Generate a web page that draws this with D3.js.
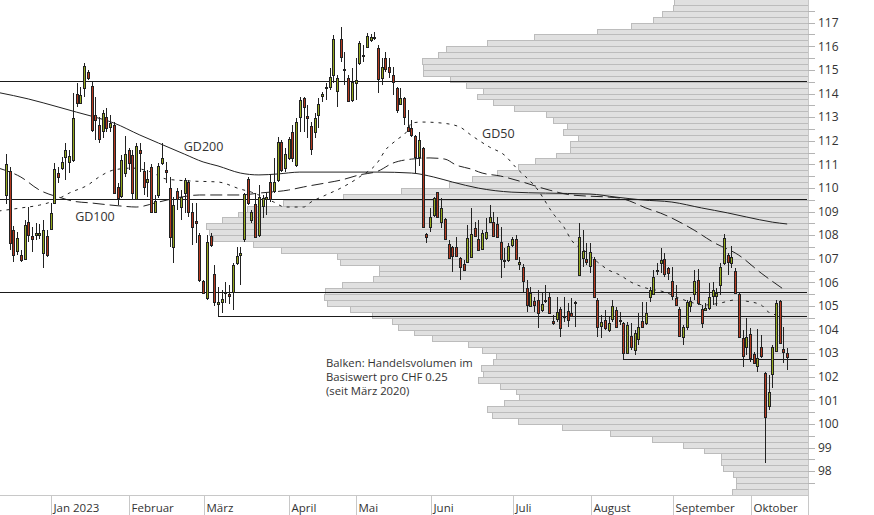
<!DOCTYPE html>
<html><head><meta charset="utf-8">
<script src="https://cdn.jsdelivr.net/npm/d3@7"></script>
<style>html,body{margin:0;padding:0;background:#fff;overflow:hidden}</style>
</head><body>
<svg id="chart" width="874" height="515"></svg>
<script>
// ---------- DATA ----------
// Daily candles [open, high, low, close], one per trading day, Dec 2022 .. Oct 2023
const candles = [
[109.70,111.43,109.30,111.01],[110.71,110.88,107.37,107.66],[108.21,108.38,106.86,107.15],[107.32,108.13,107.15,107.88],
[107.15,107.37,106.86,106.94],[106.99,108.64,106.94,108.43],[108.55,109.19,107.71,108.00],[107.96,108.34,107.28,107.83],
[108.00,108.51,107.79,108.09],[108.00,108.47,107.83,108.09],[107.24,108.64,106.61,108.21],[107.96,108.21,107.07,107.15],
[108.26,109.36,108.21,108.93],
[109.36,111.05,109.32,110.80],[110.63,110.88,110.21,110.46],[110.84,111.31,110.76,111.10],[111.31,111.90,110.33,111.60],
[111.10,111.60,110.63,111.35],[111.18,114.02,111.10,112.96],[113.98,114.44,113.43,113.60],[113.60,114.27,113.55,113.93],
[114.23,115.29,113.85,115.16],[114.91,114.99,114.57,114.65],[114.32,114.49,112.37,112.45],[113.09,113.85,112.03,112.87],
[112.66,113.00,111.90,112.07],[112.41,113.30,112.11,113.17],[113.00,113.38,112.37,112.54],[112.58,113.09,112.37,112.75],
[112.66,112.79,109.74,109.78],[110.04,110.21,109.27,109.57],[109.66,111.39,109.57,111.18],[110.63,112.20,110.46,111.43],
[111.60,111.69,110.76,111.05],
[111.39,111.60,109.49,109.78],[109.53,111.90,109.49,111.77],[111.60,111.90,110.67,111.48],[110.71,111.10,109.70,110.04],
[110.25,110.76,109.61,110.38],[110.88,111.00,108.98,108.98],[108.98,109.70,108.93,109.44],[109.70,111.05,109.57,110.93],
[111.05,111.90,110.97,111.27],[110.76,111.10,110.21,110.67],[109.99,110.46,107.49,107.92],[107.49,109.61,106.82,109.27],
[109.87,109.99,109.06,109.53],[109.19,109.91,108.64,109.61],[109.78,110.42,108.93,110.33],[110.25,110.33,108.76,108.98],
[108.98,109.36,107.58,108.34],[108.60,109.36,107.66,108.51],[108.00,108.09,106.01,106.10],[106.05,106.10,105.50,105.54],
[105.33,108.00,105.25,107.71],[107.96,108.09,107.49,107.58],[106.35,106.73,104.99,105.16],[105.08,105.80,104.58,105.16],
[105.16,105.67,104.70,105.29],[105.59,106.01,105.12,105.59],[105.50,105.88,105.08,105.42],[105.59,106.82,104.83,106.73],
[106.82,107.49,106.73,107.11],[107.15,107.49,105.88,107.24],[107.83,109.78,107.71,109.74],[110.38,110.46,109.27,109.36],
[108.64,109.06,108.51,108.98],[109.32,109.74,107.92,107.92],[108.00,110.12,107.92,109.61],[109.23,109.70,108.72,109.57],
[109.53,109.78,108.85,109.61],[110.25,110.59,109.40,109.53],[109.87,111.27,109.78,110.25],[110.33,112.16,110.25,111.94],
[111.94,112.03,110.67,110.76],[110.84,111.69,110.67,111.43],[111.27,112.16,111.18,112.07],
[112.37,112.66,111.10,111.27],[110.97,112.96,110.88,112.79],[113.00,113.85,112.37,113.72],[113.81,113.85,112.37,113.43],
[113.05,113.51,112.11,112.96],[112.62,112.79,111.39,111.65],[112.37,113.17,112.11,112.96],[113.09,113.81,112.54,113.55],
[113.89,114.06,113.64,113.98],[114.23,114.44,113.72,114.27],[114.27,115.08,114.15,114.70],[114.78,116.48,114.44,116.31],
[114.10,114.78,113.43,114.65],[116.31,116.82,115.33,115.54],[115.05,115.76,114.36,115.00],[114.65,114.78,113.64,113.68],
[113.72,115.08,113.64,114.49],[114.44,115.50,113.72,114.57],
[115.29,116.22,115.20,116.14],[115.63,116.05,115.33,115.60],[115.97,116.56,115.93,116.43],[116.27,116.52,116.18,116.39],
[116.35,116.60,116.27,116.39],[115.93,116.05,114.02,114.61],[114.65,115.50,114.36,115.12],[115.50,115.76,114.91,115.03],
[115.12,115.50,114.65,114.91],[114.78,115.12,113.93,114.49],[114.23,114.27,113.17,113.30],[113.55,114.23,113.51,113.81],
[113.81,113.85,112.66,113.00],[112.58,113.30,112.37,112.41],[112.54,112.87,112.16,112.24],[112.20,112.24,110.63,111.31],
[111.31,112.37,110.93,112.03],[111.69,111.73,108.30,108.34],[108.05,108.09,107.66,107.92],[108.34,109.15,108.13,108.77],
[108.85,109.61,108.77,109.57],[109.83,109.83,108.72,108.77],[108.55,109.57,108.30,109.15],[108.68,108.72,107.79,107.83],
[107.62,107.79,107.03,107.03],[107.49,107.54,106.43,107.11],[107.49,107.92,107.07,107.11],[107.03,107.07,106.10,106.65],
[106.77,106.94,106.48,106.52],[106.86,108.43,106.82,107.88],[107.07,109.15,107.03,108.05],[108.30,108.55,107.92,107.96],
[107.83,108.64,107.32,107.37],[107.41,108.21,107.37,108.09],[107.88,108.72,107.79,108.13],[108.55,109.27,108.51,108.77],
[108.55,108.98,107.92,107.96],[108.47,108.77,107.88,107.92],[107.71,108.34,106.18,106.99],[106.94,107.45,106.61,106.90],
[106.94,107.66,106.86,107.54],[107.58,107.92,107.49,107.83],
[107.83,108.00,106.94,106.99],[106.77,107.07,106.52,106.86],[106.65,106.77,105.59,106.05],[105.76,106.10,104.74,105.04],
[104.99,105.80,104.95,105.54],[105.20,105.37,104.74,105.04],[105.25,105.67,104.06,104.70],[104.83,105.59,104.74,105.08],
[105.20,105.88,105.12,105.25],[105.37,105.54,104.70,104.70],[104.36,104.62,104.19,104.27],[104.44,105.37,104.32,104.74],
[104.87,104.95,103.68,104.06],[104.53,105.37,104.32,104.57],[104.78,105.12,104.10,104.40],[104.70,105.33,104.53,104.57],
[105.16,105.20,104.10,105.16],[106.31,108.51,106.27,107.92],[107.03,108.21,106.65,107.32],[106.99,107.66,106.73,106.86],
[106.69,107.66,106.39,107.28],
[106.99,107.07,105.33,105.37],[105.25,105.33,103.68,104.10],[104.15,104.62,103.64,104.32],[104.40,104.83,103.98,104.06],
[103.98,104.53,103.89,104.27],[104.44,105.25,104.32,104.99],[104.83,104.95,104.06,104.10],[104.40,104.74,104.19,104.40],
[104.27,104.32,102.75,103.00],[103.00,104.32,102.96,104.19],[103.72,104.27,103.13,103.26],[103.13,103.98,102.92,103.85],
[103.60,104.70,103.34,104.10],[104.36,105.16,104.06,104.10],[104.27,105.16,104.19,104.70],[105.37,105.80,105.16,105.67],
[105.50,106.52,105.46,106.23],[106.48,106.82,106.31,106.52],[106.82,107.45,106.39,106.94],[106.99,107.24,106.23,106.35],
[106.61,106.65,106.10,106.39],[106.05,106.65,105.25,105.42],
[105.33,105.88,104.99,105.04],[104.87,104.95,103.68,103.72],[103.68,104.19,103.34,104.10],[104.10,105.25,103.98,105.16],
[104.99,105.37,104.74,105.20],[105.50,106.52,105.25,106.05],[106.10,106.56,105.04,105.12],[104.87,105.04,104.06,104.27],
[104.83,105.12,104.83,104.91],[104.91,105.97,104.83,105.37],[105.42,106.01,105.04,105.67],[105.42,105.76,104.99,105.54],
[105.88,106.82,105.46,106.65],[106.82,108.05,106.73,107.88],[107.15,107.24,106.31,106.86],[106.82,107.54,106.61,107.07],
[106.48,106.61,105.54,105.54],[105.50,105.59,103.68,103.68],[103.64,103.98,102.41,102.88],[103.26,104.49,102.92,103.68],
[103.81,104.06,102.62,102.79],
[102.96,103.05,102.58,102.58],[102.45,104.02,102.20,102.79],[103.26,103.77,102.79,102.88],[102.16,102.20,98.34,100.29],
[100.76,102.07,100.59,101.35],[102.11,103.34,101.52,103.26],[103.09,105.25,103.05,105.12],[105.20,105.25,103.38,103.43],
[103.17,104.10,102.58,103.05],[103.00,103.22,102.28,102.83]
];

// Month labels and the trading-day index of each month's first session
const monthLabels = ["Jan 2023","Februar","März","April","Mai","Juni","Juli","August","September","Oktober"];
const monthStartIdx = [13, 34, 54, 77, 95, 115, 137, 158, 180, 201];

// Moving averages [day index, value]
const gd200 = [[-2,114.04],[6,113.77],[14,113.43],[19,113.21],[23,113.04],[29,112.75],[36,112.24],[41,111.90],[48,111.43],[53,111.10],[57,110.93],[63,110.63],[68,110.55],[73,110.59],[79,110.67],[100,110.67],[109,110.63],[115,110.46],[120,110.25],[127,109.99],[136,109.82],[145,109.78],[157,109.74],[164,109.61],[171,109.49],[179,109.40],[187,109.15],[194,108.94],[199,108.77],[206,108.55],[210,108.47]];
const gd100 = [[-2,110.84],[4,110.46],[9,109.91],[15,109.57],[18,109.44],[23,109.36],[31,109.23],[35,109.19],[41,109.40],[47,109.61],[52,109.70],[63,109.70],[68,109.78],[76,109.91],[80,110.04],[86,110.21],[90,110.33],[95,110.55],[100,110.71],[104,111.05],[109,111.22],[114,111.27],[118,111.22],[121,110.97],[125,110.80],[128,110.63],[133,110.50],[138,110.29],[146,109.91],[152,109.70],[162,109.61],[165,109.57],[169,109.36],[172,109.15],[176,108.93],[185,108.21],[190,107.71],[197,107.15],[203,106.39],[209,105.71]];
const gd50 = [[-2,109.02],[4,109.15],[9,109.27],[12,109.40],[15,109.61],[17,109.78],[22,110.12],[25,110.46],[29,110.76],[34,110.84],[39,110.67],[43,110.38],[50,110.29],[57,110.25],[63,109.95],[66,109.82],[72,109.40],[75,109.19],[80,109.19],[82,109.40],[86,109.70],[90,109.99],[95,110.46],[100,111.10],[102,111.60],[105,112.03],[108,112.45],[109,112.75],[112,112.79],[117,112.75],[122,112.58],[125,112.24],[130,111.73],[134,111.39],[137,110.88],[143,109.91],[147,108.93],[150,108.34],[152,107.79],[156,107.28],[159,106.86],[162,106.52],[165,106.31],[168,106.01],[172,105.76],[177,105.59],[181,105.33],[184,105.16],[188,105.04],[192,105.12],[196,105.25],[199,105.20],[203,105.04],[205,104.74],[210,104.53]];
const maLabels = [{name:"GD200", idx:47.8, v:111.56},{name:"GD100", idx:18.6, v:108.6},{name:"GD50", idx:128, v:112.1}];

// Horizontal support / resistance levels (fromIdx null = full width)
const levels = [{v:114.53, fromIdx:null},{v:109.51, fromIdx:null},{v:105.57, fromIdx:null},{v:104.58, fromIdx:57},{v:102.75, fromIdx:166}];

// Volume profile: price bins (lower bound, CHF 0.25 wide) and relative traded volume (% of max)
const volBins = [117.75,117.5,117.25,117,116.75,116.5,116.25,116,115.75,115.5,115.25,115,114.75,114.5,114.25,114,
113.75,113.5,113.25,113,112.75,112.5,112.25,112,111.75,111.5,111.25,111,110.75,110.5,110.25,110,
109.75,109.5,109.25,109,108.75,108.5,108.25,108,107.75,107.5,107.25,107,106.75,106.5,106.25,106,
105.75,105.5,105.25,105,104.75,104.5,104.25,104,103.75,103.5,103.25,103,102.75,102.5,102.25,102,
101.75,101.5,101.25,101,100.75,100.5,100.25,100,99.75,99.5,99.25,99,98.75,98.5,98.25,98,97.75,97.5,97.25,97];
const volValues = [22.3,22.4,24.3,25.7,29.4,35.0,45.5,53.3,60.1,61.5,64.1,64.0,64.0,59.5,56.8,54.0,
55.0,52.3,48.8,43.5,42.4,40.0,40.7,38.2,39.5,39.5,41.9,45.3,48.2,51.7,55.8,59.6,
67.6,77.2,87.2,93.2,94.7,97.3,100,99.5,98.8,92.2,87.5,78.2,77.7,71.3,71.3,72.3,
77.4,80.2,80.4,79.9,76.1,72.4,69.1,68.1,65.4,62.5,56.5,54.2,51.8,52.3,54.3,54.0,
54.8,51.2,48.5,48.0,50.5,53.3,52.5,48.2,40.9,32.9,25.9,20.8,17.3,14.5,14.5,14.1,12.5,12.0,12.0,12.6];
const volBinSize = 0.25;
const yTickLabels = [98,99,100,101,102,103,104,105,106,107,108,109,110,111,112,113,114,115,116,117];
const noteLines = ["Balken: Handelsvolumen im","Basiswert pro CHF 0.25","(seit März 2020)"];

// ---------- LAYOUT ----------
const plotR = 808, plotB = 495.5, H = 515;
const FONT = "'Open Sans', 'Noto Sans', sans-serif";
const x = d3.scaleLinear().domain([-1.6, 215.6]).range([0, plotR]);
const y = d3.scaleLinear().domain([97, 118]).range([494.7, -0.9]);
const xv = d3.scaleLinear().domain([0, 100]).range([0, 602]);
const svg = d3.select("#chart");
svg.append("defs").append("clipPath").attr("id","clip")
  .append("rect").attr("x",0).attr("y",0).attr("width",plotR).attr("height",plotB);
const g = svg.append("g").attr("clip-path","url(#clip)");

// volume profile
g.append("g").selectAll("rect").data(volBins).join("rect")
  .attr("x", (b,i) => Math.round(plotR - xv(volValues[i])) + 0.5)
  .attr("y", b => Math.round(y(b + volBinSize)) + 0.5)
  .attr("width", (b,i) => Math.round(xv(volValues[i])))
  .attr("height", b => Math.round(y(b)) - Math.round(y(b + volBinSize)))
  .attr("fill", "#e0e0e0").attr("stroke", "#bcbcbc").attr("stroke-width", 1);

// moving averages
const line = d3.line().x(d => x(d[0])).y(d => y(d[1])).curve(d3.curveMonotoneX);
const maStyles = [[gd200, null],[gd100, "12,5"],[gd50, "3,5"]];
maStyles.forEach(([data, dash]) => {
  g.append("path").attr("d", line(data)).attr("fill","none")
    .attr("stroke","#222").attr("stroke-width",1).attr("stroke-dasharray", dash);
});

// levels
g.append("g").selectAll("line").data(levels).join("line")
  .attr("x1", d => d.fromIdx === null ? 0 : Math.round(x(d.fromIdx)))
  .attr("x2", plotR - 1)
  .attr("y1", d => Math.round(y(d.v)) + 0.5).attr("y2", d => Math.round(y(d.v)) + 0.5)
  .attr("stroke", "#1a1a1a").attr("stroke-width", 1.2);

// candles
const cg = g.append("g");
candles.forEach((c, i) => {
  const [o, h, l, cl] = c;
  const cx = Math.round(x(i));
  cg.append("line").attr("x1", cx + 0.5).attr("x2", cx + 0.5)
    .attr("y1", Math.round(y(h))).attr("y2", Math.round(y(l)))
    .attr("stroke", "#222").attr("stroke-width", 1);
  const t = Math.round(y(Math.max(o, cl))), b = Math.round(y(Math.min(o, cl)));
  cg.append("rect").attr("x", cx - 0.5).attr("y", t + 0.5)
    .attr("width", 2).attr("height", Math.max(1, b - t))
    .attr("fill", cl >= o ? "#94a81d" : "#b5391f")
    .attr("stroke", "#222").attr("stroke-width", 1);
});

// MA labels
svg.append("g").selectAll("text").data(maLabels).join("text")
  .attr("x", d => x(d.idx)).attr("y", d => y(d.v))
  .attr("font-family", FONT).attr("font-size", 12.5).attr("fill", "#333")
  .text(d => d.name);

// note text
svg.append("g").selectAll("text").data(noteLines).join("text")
  .attr("x", 326).attr("y", (d,i) => 366.5 + i * 14)
  .attr("font-family", FONT).attr("font-size", 11.3).attr("fill", "#333")
  .text(d => d);

// right axis
svg.append("line").attr("x1", plotR + 0.5).attr("x2", plotR + 0.5).attr("y1", 0).attr("y2", H)
  .attr("stroke", "#c8c8c8");
svg.append("g").selectAll("line").data(d3.range(97.5, 118, 0.5)).join("line")
  .attr("x1", plotR).attr("x2", plotR + 7)
  .attr("y1", d => Math.round(y(d)) + 0.5).attr("y2", d => Math.round(y(d)) + 0.5)
  .attr("stroke", "#b4b4b4");
svg.append("g").selectAll("text").data(yTickLabels).join("text")
  .attr("x", 818).attr("y", d => y(d)).attr("dy", "0.36em")
  .attr("font-family", FONT).attr("font-size", 12).attr("fill", "#333")
  .text(d => d);

// bottom axis
svg.append("line").attr("x1", 0).attr("x2", plotR).attr("y1", plotB).attr("y2", plotB)
  .attr("stroke", "#c8c8c8");
svg.append("g").selectAll("line").data(monthStartIdx).join("line")
  .attr("x1", d => Math.round(x(d - 0.8)) + 0.5).attr("x2", d => Math.round(x(d - 0.8)) + 0.5)
  .attr("y1", plotB).attr("y2", H).attr("stroke", "#c8c8c8");
svg.append("g").selectAll("text").data(monthLabels).join("text")
  .attr("x", (d,i) => Math.round(x(monthStartIdx[i] - 0.8)) + 2.5).attr("y", 511.5)
  .attr("font-family", FONT).attr("font-size", 11.5).attr("fill", "#333")
  .text(d => d);
</script>
</body></html>
